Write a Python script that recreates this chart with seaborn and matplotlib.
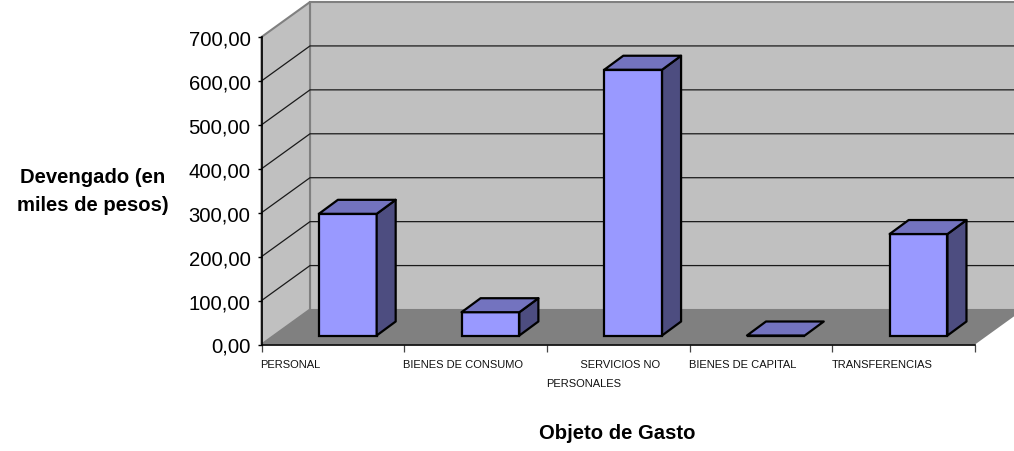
import numpy as np
import pandas as pd
import seaborn as sns
import matplotlib.pyplot as plt
from matplotlib.patches import Polygon
from matplotlib.transforms import Affine2D

# values in miles de pesos
categorias = ['PERSONAL', 'BIENES DE CONSUMO', 'SERVICIOS NO', 'BIENES DE CAPITAL', 'TRANSFERENCIAS']
devengado = [277, 53, 605, 0, 231]
yticks = [0, 100, 200, 300, 400, 500, 600, 700]
# wrapped label, leading spaces push the first line over like the original
xlabels = ['PERSONAL', 'BIENES DE CONSUMO', '           SERVICIOS NO\nPERSONALES',
           'BIENES DE CAPITAL', 'TRANSFERENCIAS', '']

sns.set_theme(style='white')
plt.rcParams['font.family'] = ['Liberation Sans', 'DejaVu Sans']

W, H = 1014, 452
fig = plt.figure(figsize=(W / 100, H / 100), dpi=100)
ax = fig.add_axes([261.5 / W, (H - 345.5) / H, 713.5 / W, 307.5 / H])
ax.patch.set_visible(False)

df = pd.DataFrame({'cat': categorias, 'val': devengado})

px_x = 713.5 / 5    # pixels per category
px_y = 307.5 / 700  # pixels per value unit


def proj(x, v, dx_px, dy_px):
    # move a data point by a depth offset given in pixels
    return x + dx_px / px_x, v + dy_px / px_y


# depth of the floor and walls
DX, DY = 48.5, 35
x0, x1 = -0.5, 4.5
vmax = yticks[-1]

def wall(pts, color, z):
    ax.add_patch(Polygon(pts, closed=True, facecolor=color, edgecolor='#808080',
                         linewidth=1.5, clip_on=False, zorder=z))

bx0, bv0 = proj(x0, 0, DX, DY)
bx1, bvt = proj(x1, vmax, DX, DY)
wall([(bx0, bv0), (bx1, bv0), (bx1, bvt), (bx0, bvt)], '#C0C0C0', 0)
wall([(x0, 0), (x0, vmax), (bx0, bvt), (bx0, bv0)], '#C0C0C0', 0.5)
ax.add_patch(Polygon([(x0, 0), (x1, 0), (bx1, bv0), (bx0, bv0)], closed=True,
                     facecolor='#808080', edgecolor='none', clip_on=False, zorder=1))

# gridlines run along the side wall then the back wall
for v in yticks[1:-1]:
    bx, bv = proj(x0, v, DX, DY)
    ax.plot([x0, bx, bx1], [v, bv, bv], color='#1a1a1a', lw=0.9, clip_on=False, zorder=0.8)

# front faces, the bars sit a bit into the floor
BX, BY = 12.5, 9
base = BY / px_y
sns.barplot(data=df, x='cat', y='val', ax=ax, color='#9999FF', saturation=1, width=0.405,
            bottom=base, edgecolor='black', linewidth=1.6, zorder=3)

# side and top of each bar
SX, SY = 19, 14
for p in ax.patches:
    if not hasattr(p, 'get_width'):
        continue
    xl = p.get_x() + (BX + 1) / px_x + 0.01
    w = p.get_width()
    p.set_x(xl)
    top = p.get_y() + p.get_height()
    bot = p.get_y()
    p.set_clip_on(False)
    xr = xl + w
    sx, sy = proj(xr, top, SX, SY)
    tx, ty = proj(xl, top, SX, SY)
    bx, by = proj(xr, bot, SX, SY)
    if top > bot:
        ax.add_patch(Polygon([(xr, bot), (bx, by), (sx, sy), (xr, top)], closed=True,
                             facecolor='#4D4D80', edgecolor='black', linewidth=1.6,
                             joinstyle='round', clip_on=False, zorder=3))
    ax.add_patch(Polygon([(xl, top), (xr, top), (sx, sy), (tx, ty)], closed=True,
                         facecolor='#7373BF', edgecolor='black', linewidth=1.6,
                         joinstyle='round', clip_on=False, zorder=3))

ax.set_xlim(x0, x1)
ax.set_ylim(0, vmax)
sns.despine(ax=ax, top=True, right=True)
for s in ['left', 'bottom']:
    ax.spines[s].set_color('black')
    ax.spines[s].set_linewidth(1.2)
    ax.spines[s].set_zorder(2)

ax.set_yticks(yticks)
ax.set_yticklabels([f'{v},00' for v in yticks])
ax.tick_params(axis='y', labelsize=14.6, length=3, width=1, left=True, pad=5, colors='black')

ax.set_xticks(np.arange(6) - 0.5)
ax.set_xticklabels(xlabels, ha='left', fontsize=8, color='#111111', linespacing=2.1)
ax.tick_params(axis='x', length=5, width=0.9, bottom=True, pad=5.5, color='#444444')
for lab in ax.get_xticklabels():
    lab.set_transform(lab.get_transform() + Affine2D().translate(-1, 0))

ax.set_ylabel('Devengado (en\nmiles de pesos)', rotation=0, fontsize=14.6, fontweight='bold',
              color='black', ha='center', va='center', linespacing=1.6)
ax.yaxis.set_label_coords(-0.236, 0.5)
ax.set_xlabel('Objeto de Gasto', fontsize=14.6, fontweight='bold', color='black',
              ha='center', va='center')
ax.xaxis.set_label_coords(0.4985, -0.287)

plt.savefig('out.png', dpi=100)
plt.close()
